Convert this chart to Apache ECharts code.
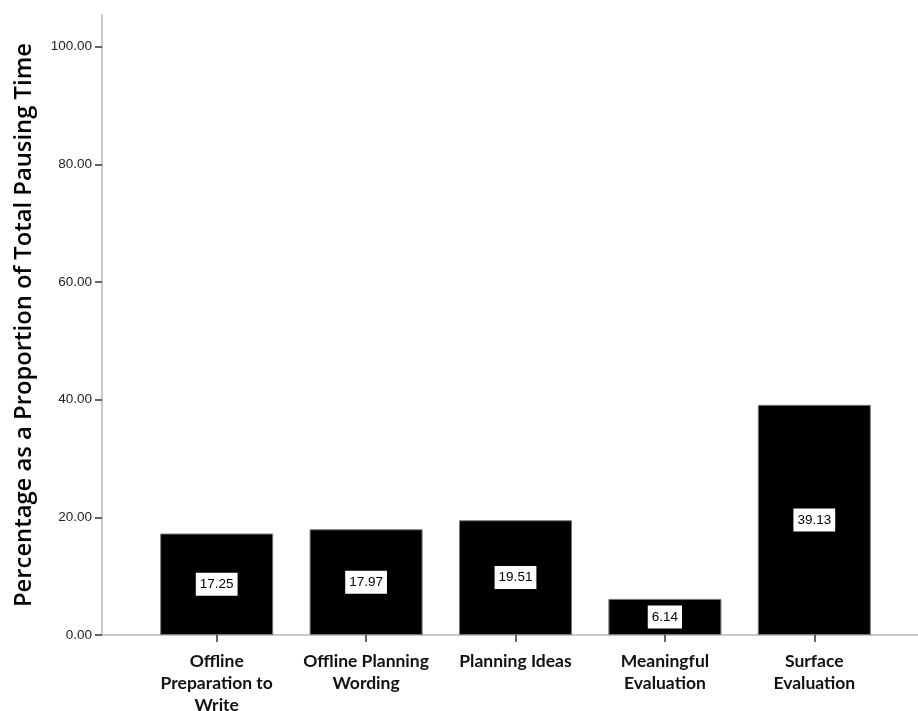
<!DOCTYPE html>
<html><head><meta charset="utf-8">
<script src="https://cdn.jsdelivr.net/npm/echarts@6/dist/echarts.min.js"></script>
<style>html,body{margin:0;padding:0;background:#fff}#c{width:918px;height:711px}</style>
</head><body><div id="c"></div>
<script>
const categories = ['Offline\nPreparation to\nWrite', 'Offline Planning\nWording', 'Planning Ideas', 'Meaningful\nEvaluation', 'Surface\nEvaluation'];
const values = [17.25, 17.97, 19.51, 6.14, 39.13];
const yTicks = [0, 20, 40, 60, 80, 100];
const yName = 'Percentage as a Proportion of Total Pausing Time';

const chart = echarts.init(document.getElementById('c'));
chart.setOption({
  animation: false,
  grid: [
    {left: 142, right: 29, top: 15, bottom: 76, outerBoundsMode: 'none', containLabel: false},
    {left: 102, right: 0, top: 15, bottom: 76, outerBoundsMode: 'none', containLabel: false}
  ],
  xAxis: [
    {type: 'category', gridIndex: 0, data: categories,
     axisLine: {show: false},
     axisTick: {show: true, alignWithLabel: true, length: 7, lineStyle: {color: '#333', width: 1.5}},
     axisLabel: {interval: 0, margin: 15, fontFamily: 'Lato', fontWeight: 'bold', fontSize: 17.5, color: '#111', lineHeight: 22}},
    {type: 'value', gridIndex: 1, min: 0, max: 1,
     axisLine: {show: true, lineStyle: {color: '#c8c8c8', width: 2}},
     axisTick: {show: false}, axisLabel: {show: false}, splitLine: {show: false}}
  ],
  yAxis: [
    {type: 'value', gridIndex: 0, min: 0, max: 105.4, interval: 20, offset: 40,
     name: yName, nameLocation: 'middle', nameGap: 66, nameRotate: 90,
     nameTextStyle: {fontFamily: 'Open Sans', fontSize: 23.8, color: '#000', fontWeight: 600},
     axisLine: {show: true, lineStyle: {color: '#c8c8c8', width: 2}},
     axisTick: {show: true, length: 7, customValues: yTicks, lineStyle: {color: '#333', width: 1.5}},
     axisLabel: {customValues: yTicks, formatter: v => v.toFixed(2), margin: 10, fontFamily: 'Liberation Sans', fontSize: 13.5, color: '#222'},
     splitLine: {show: false}},
    {type: 'value', gridIndex: 1, show: false}
  ],
  series: [{
    type: 'bar', xAxisIndex: 0, yAxisIndex: 0, data: values, barWidth: 113,
    itemStyle: {color: '#000', borderColor: '#777', borderWidth: 1},
    label: {show: true, position: 'inside', formatter: p => p.value.toFixed(2),
      backgroundColor: '#fff', color: '#000', padding: [5, 4, 4, 4],
      fontFamily: 'Liberation Sans', fontSize: 13.5}
  }]
});
</script></body></html>
